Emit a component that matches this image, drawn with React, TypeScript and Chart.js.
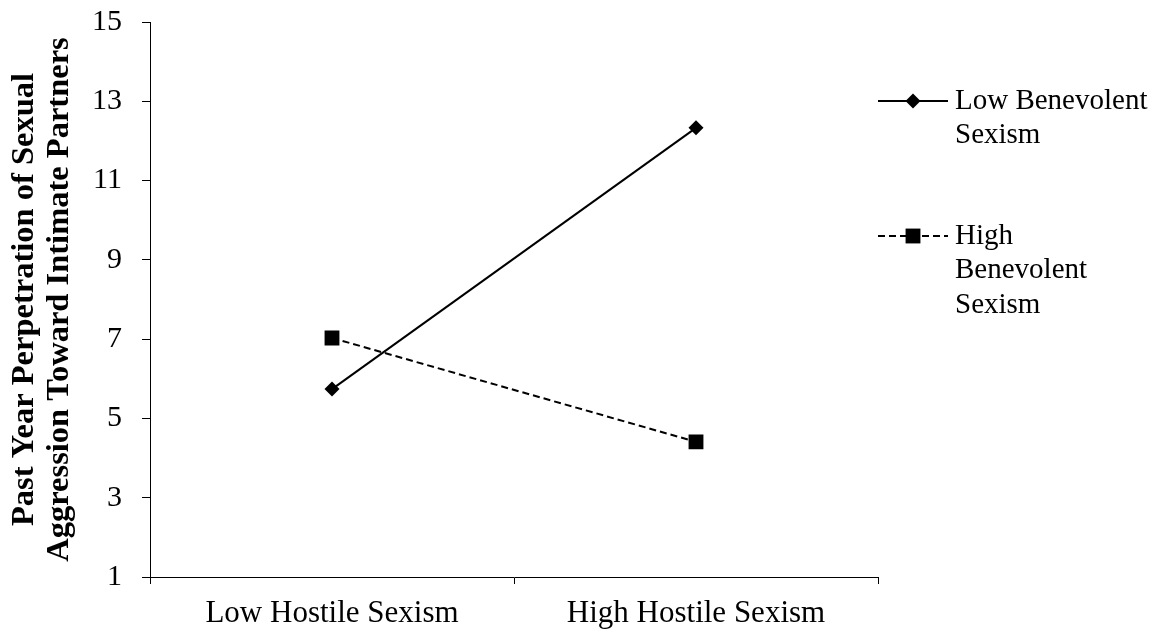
import React, { useEffect, useRef } from "react";
import { Chart, registerables } from "chart.js";

Chart.register(...registerables);

const categories = ["Low Hostile Sexism", "High Hostile Sexism"];
const lowBenevolent = [5.74, 12.33];
const highBenevolent = [7.03, 4.41];
const seriesNames = ["Low Benevolent Sexism", "High Benevolent Sexism"];
const legendLines = [["Low Benevolent", "Sexism"], ["High", "Benevolent", "Sexism"]];
const yTitle = ["Past Year Perpetration of Sexual", "Aggression Toward Intimate Partners"];
const yMin = 1;
const yMax = 15;
const yStep = 2;

const FONT = "'Liberation Serif', 'Times New Roman', serif";

const legendPlugin = {
  id: "sideLegend",
  afterDraw(chart: any) {
    const ctx = chart.ctx;
    const area = chart.chartArea;
    const x0 = area.right;
    const x1 = x0 + 70;
    const mx = x0 + 35;
    const textX = x0 + 77;
    const entryY = [101, 236];
    const lh = 34.5;
    ctx.save();
    chart.data.datasets.forEach((ds: any, i: number) => {
      const y = entryY[i];
      ctx.strokeStyle = ds.borderColor;
      ctx.lineWidth = ds.borderWidth;
      ctx.setLineDash(ds.borderDash || []);
      ctx.beginPath();
      ctx.moveTo(x0, y);
      ctx.lineTo(x1, y);
      ctx.stroke();
      ctx.setLineDash([]);
      ctx.fillStyle = ds.pointBackgroundColor;
      const r = ds.pointRadius;
      ctx.beginPath();
      if (ds.pointStyle === "rectRot") {
        ctx.moveTo(mx, y - r);
        ctx.lineTo(mx + r, y);
        ctx.lineTo(mx, y + r);
        ctx.lineTo(mx - r, y);
        ctx.closePath();
      } else {
        const s = r * Math.SQRT1_2;
        ctx.rect(mx - s, y - s, 2 * s, 2 * s);
      }
      ctx.fill();
      ctx.fillStyle = "#000";
      ctx.font = `29px ${FONT}`;
      ctx.textAlign = "left";
      ctx.textBaseline = "middle";
      legendLines[i].forEach((t, j) => ctx.fillText(t, textX, y + j * lh));
    });
    ctx.restore();
  },
};

export default function App() {
  const ref = useRef<HTMLCanvasElement>(null);
  useEffect(() => {
    if (!ref.current) return;
    const chart = new Chart(ref.current, {
      type: "line",
      data: {
        labels: categories,
        datasets: [
          {
            label: seriesNames[0],
            data: lowBenevolent,
            borderColor: "#000",
            backgroundColor: "#000",
            pointBackgroundColor: "#000",
            pointBorderColor: "#000",
            borderWidth: 2,
            pointStyle: "rectRot",
            pointRadius: 7.5,
            pointBorderWidth: 0,
            tension: 0,
          },
          {
            label: seriesNames[1],
            data: highBenevolent,
            borderColor: "#000",
            backgroundColor: "#000",
            pointBackgroundColor: "#000",
            pointBorderColor: "#000",
            borderWidth: 2,
            borderDash: [7, 4],
            pointStyle: "rect",
            pointRadius: 10.5,
            pointBorderWidth: 0,
            tension: 0,
          },
        ],
      },
      options: {
        responsive: false,
        animation: false,
        layout: { padding: { top: 22, right: 271, bottom: 0, left: 0 } },
        plugins: { legend: { display: false }, tooltip: { enabled: false } },
        scales: {
          x: {
            type: "category",
            offset: true,
            grid: {
              offset: true,
              drawOnChartArea: false,
              drawTicks: true,
              tickLength: 7,
              color: "#000",
            },
            border: { display: true, color: "#000", width: 1 },
            ticks: {
              color: "#000",
              font: { family: FONT, size: 31 },
              padding: 11,
              maxRotation: 0,
            },
            afterFit: (s: any) => {
              s.height = 52;
              s.paddingLeft = 0;
              s.paddingRight = 0;
            },
          },
          y: {
            min: yMin,
            max: yMax,
            grid: {
              drawOnChartArea: false,
              drawTicks: true,
              tickLength: 8,
              color: "#000",
            },
            border: { display: true, color: "#000", width: 1 },
            ticks: {
              stepSize: yStep,
              color: "#000",
              font: { family: FONT, size: 30 },
              padding: 20,
            },
            title: {
              display: true,
              text: yTitle,
              color: "#000",
              font: { family: FONT, size: 32.5, weight: "bold", lineHeight: 1.07 },
              padding: { top: 7, bottom: 0 },
            },
            afterFit: (s: any) => {
              s.width = 150;
              s.paddingTop = 0;
              s.paddingBottom = 0;
            },
          },
        },
      },
      plugins: [legendPlugin],
    });
    return () => chart.destroy();
  }, []);
  return (
    <div style={{ position: "fixed", left: 0, top: 0, width: 1149, height: 629, background: "#fff" }}>
      <canvas ref={ref} width={1149} height={629} />
    </div>
  );
}
